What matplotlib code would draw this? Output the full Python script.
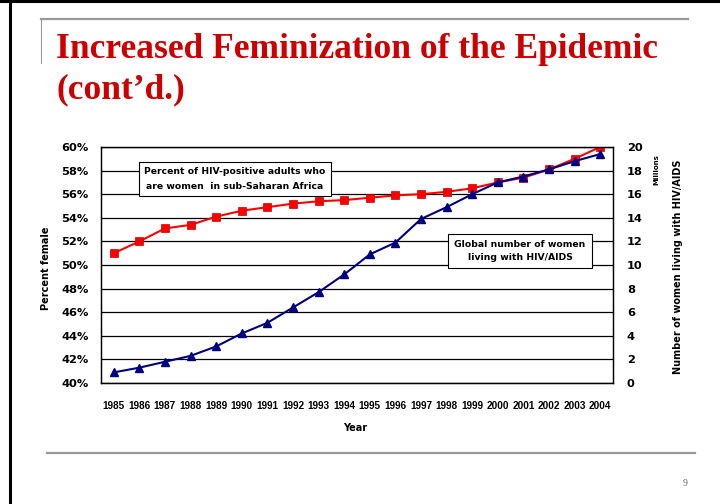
import matplotlib.pyplot as plt
from matplotlib.lines import Line2D

years = [1985, 1986, 1987, 1988, 1989, 1990, 1991, 1992, 1993, 1994,
         1995, 1996, 1997, 1998, 1999, 2000, 2001, 2002, 2003, 2004]
pct_female = [51.0, 52.0, 53.1, 53.4, 54.1, 54.6, 54.9, 55.2, 55.4, 55.5,
              55.7, 55.9, 56.0, 56.2, 56.5, 57.0, 57.4, 58.1, 59.0, 60.0]
women_millions = [0.9, 1.3, 1.8, 2.3, 3.1, 4.2, 5.1, 6.4, 7.7, 9.2,
                  10.9, 11.9, 13.9, 14.9, 16.0, 17.0, 17.5, 18.1, 18.8, 19.4]
pct_ticks = [40, 42, 44, 46, 48, 50, 52, 54, 56, 58, 60]
million_ticks = [0, 2, 4, 6, 8, 10, 12, 14, 16, 18, 20]

W, H = 720, 504
fig = plt.figure(figsize=(7.2, 5.04), dpi=100)


def fx(px):
    return px / W


def fy(py):
    return 1 - py / H


# slide decoration
fig.add_artist(Line2D([fx(10), fx(10)], [0, 1], color="black", lw=2.2))
fig.add_artist(Line2D([0, 1], [fy(1), fy(1)], color="black", lw=2.2))
fig.add_artist(Line2D([fx(41), fx(688)], [fy(19), fy(19)], color="#999999", lw=1.6))
fig.add_artist(Line2D([fx(41), fx(41)], [fy(19), fy(63)], color="#999999", lw=0.8))
fig.add_artist(Line2D([fx(47), fx(695)], [fy(453), fy(453)], color="#999999", lw=1.6))

title_font = dict(family="Liberation Serif", weight="bold", size=25.5, color="#CC0000")
fig.text(fx(56), fy(58), "Increased Feminization of the Epidemic", va="baseline", **title_font)
fig.text(fx(56), fy(98), "(cont\u2019d.)", va="baseline", **title_font)
fig.text(fx(685), fy(483), "9", ha="center", va="center",
         family="Liberation Serif", size=7, color="#666666")

# chart
ax = fig.add_axes([fx(101), fy(383), fx(613) - fx(101), (383 - 147) / H])
ax2 = ax.twinx()

ax.plot(years, pct_female, color="#FF0000", lw=1.5, marker="s", ms=5.5,
        mfc="#FF0000", mec="#CC0000", mew=0.5)
ax2.plot(years, women_millions, color="#000080", lw=1.5, marker="^", ms=6,
         mfc="#000080", mec="#000080")

ax.set_xlim(1984.5, 2004.5)
ax.set_ylim(40, 60)
ax2.set_ylim(0, 20)
ax.set_yticks(pct_ticks)
ax.set_yticklabels([f"{t}%" for t in pct_ticks])
ax2.set_yticks(million_ticks)
ax.set_xticks(years)
ax.set_xticklabels([str(y) for y in years])

for t in pct_ticks:
    ax.axhline(t, color="black", lw=0.9, zorder=0)

ax.tick_params(axis="y", length=0, pad=9, labelsize=8.2)
ax2.tick_params(axis="y", length=0, pad=10, labelsize=8.2)
ax.tick_params(axis="x", length=0, pad=13)
for lab in ax.get_yticklabels() + ax2.get_yticklabels():
    lab.set_fontweight("bold")
for lab in ax.get_xticklabels():
    lab.set_fontweight("bold")
    lab.set_fontfamily("Liberation Sans")
    lab.set_fontsize(7.2)

for a in (ax, ax2):
    for s in a.spines.values():
        s.set_color("black")
        s.set_linewidth(0.9)

fig.text(fx(46), fy(268), "Percent female", rotation=90, ha="center", va="center",
         weight="bold", size=7)
fig.text(fx(678), fy(267), "Number of women living with HIV/AIDS", rotation=90,
         ha="center", va="center", weight="bold", size=7)
fig.text(fx(656), fy(170), "Millions", rotation=90, ha="center", va="center",
         weight="bold", size=5)
fig.text(fx(355), fy(428), "Year", ha="center", va="center", weight="bold", size=7)

box = dict(boxstyle="square,pad=0.55", fc="white", ec="black", lw=0.8)
ax.text(fx(235), fy(179), "Percent of HIV-positive adults who\nare women  in sub-Saharan Africa",
        transform=fig.transFigure, ha="center", va="center", size=6.7, weight="bold",
        linespacing=1.8, bbox=box, zorder=5)
ax2.text(fx(520), fy(251), "Global number of women\nliving with HIV/AIDS",
         transform=fig.transFigure, ha="center", va="center", size=6.7, weight="bold",
         linespacing=1.6, bbox=dict(boxstyle="square,pad=0.65", fc="white", ec="black", lw=0.8),
         zorder=5)

fig.savefig("out.png", dpi=100)
